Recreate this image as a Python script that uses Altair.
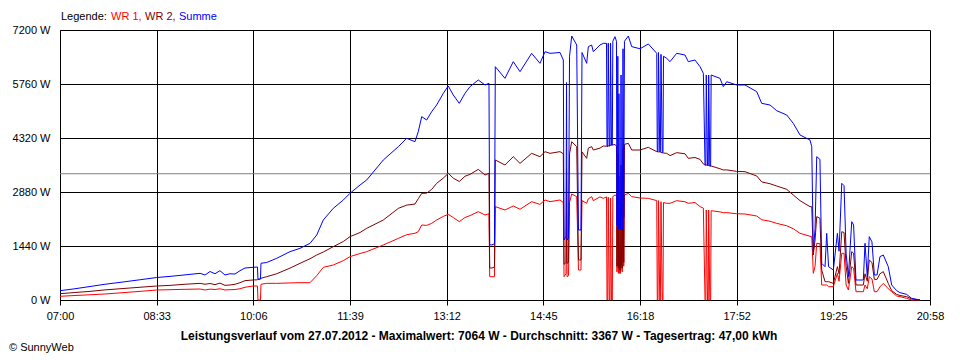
import json
import altair as alt
import pandas as pd

FONT = "Liberation Sans"

# time in minutes after 07:00
minutes = [
    0, 14.4, 28.9, 43.3, 57.8, 77.1, 93.1, 106.0, 120.4, 134.9,
    139.7, 144.5, 149.3, 154.1, 158.9, 163.7, 168.6, 173.4, 178.2, 185.9,
    190.2, 190.7, 193.1, 193.6, 199.1, 208.7, 221.5, 231.2, 240.8, 247.3,
    253.6, 263.2, 272.9, 279.3, 289.0, 295.4, 311.4, 325.9, 333.9, 341.9,
    345.1, 348.4, 353.2, 358.0, 362.8, 369.2, 374.0, 378.8, 384.6, 390.1,
    394.9, 402.9, 409.4, 413.2, 413.9, 416.1, 418.5, 419.3, 428.6, 436.6,
    443.1, 454.3, 462.3, 467.2, 472.0, 481.6, 484.8, 485.5, 487.4, 487.9,
    488.4, 489.8, 490.8, 492.9, 497.7, 499.4, 501.8, 502.8, 507.3, 508.9,
    512.1, 513.7, 520.1, 523.3, 526.4, 526.9, 527.6, 528.1, 529.1, 529.8,
    530.3, 531.2, 532.0, 532.5, 534.6, 536.0, 536.5, 537.3, 537.8, 538.4,
    538.9, 539.9, 540.4, 540.8, 541.6, 542.3, 543.0, 543.7, 547.4, 550.7,
    558.7, 566.7, 574.8, 575.3, 576.0, 576.5, 577.7, 578.3, 578.9, 580.1,
    580.8, 581.3, 584.4, 587.6, 594.0, 602.0, 605.2, 611.6, 616.5, 619.7,
    621.3, 622.1, 622.5, 623.7, 624.4, 624.8, 625.9, 626.7, 627.2, 635.7,
    638.9, 642.2, 651.8, 659.8, 671.1, 675.9, 683.9, 690.3, 700.0, 706.3,
    712.8, 722.4, 724.1, 725.6, 727.3, 728.9, 732.0, 733.7, 736.9, 738.5,
    740.3, 744.9, 748.8, 750.4, 753.0, 755.2, 757.2, 759.4, 762.6, 764.4,
    766.7, 773.8, 775.4, 777.6, 779.5, 782.1, 784.4, 787.0, 789.8, 793.0,
    797.8, 801.1, 805.9, 809.1, 815.5, 820.3, 828.4,
]

summe = [
    248, 300, 360, 420, 470, 540, 600, 630, 670, 711,
    667, 760, 700, 782, 667, 700, 693, 782, 853, 871,
    880, 552, 560, 980, 1000, 1111, 1289, 1378, 1511, 1733,
    2133, 2444, 2667, 2844, 3067, 3200, 3733, 4089, 4311, 4222,
    4489, 4889, 4800, 5022, 5200, 5511, 5707, 5467, 5244, 5511,
    5689, 5867, 5733, 5780, 1470, 1470, 1500, 6222, 5911, 6356,
    6089, 6578, 6311, 6622, 6578, 6600, 6400, 1600, 1700, 5800,
    1600, 1650, 6500, 7040, 6800, 1867, 1867, 6600, 6311, 6756,
    6800, 6622, 6800, 6844, 6844, 4100, 4100, 6850, 4110, 4110,
    6850, 4133, 4133, 6900, 7022, 6900, 2000, 6500, 1867, 5500,
    1900, 1867, 6000, 2500, 1867, 6700, 2200, 6900, 7040, 6756,
    6700, 6827, 6578, 3956, 3956, 6600, 3950, 3950, 6550, 3930,
    3930, 6500, 6444, 6356, 6578, 6533, 6356, 6400, 6222, 6044,
    3600, 3600, 6000, 3590, 3590, 6000, 3573, 3573, 6000, 5911,
    5689, 5822, 5733, 5733, 5556, 5244, 5200, 5049, 4933, 4711,
    4400, 4267, 4089, 1300, 1900, 3822, 3750, 978, 889, 1778,
    889, 800, 1778, 1300, 3111, 3050, 1244, 622, 2089, 2000,
    533, 533, 1511, 622, 1689, 1550, 667, 667, 1156, 1200,
    889, 400, 250, 196, 150, 44, 0,
]

wr2 = [
    168, 200, 230, 270, 300, 340, 373, 390, 420, 444,
    420, 440, 410, 450, 391, 400, 420, 462, 516, 533,
    540, 552, 560, 580, 622, 700, 850, 978, 1100, 1200,
    1280, 1422, 1560, 1689, 1800, 1911, 2133, 2444, 2530, 2560,
    2700, 2844, 2850, 2950, 3111, 3250, 3378, 3250, 3160, 3300,
    3350, 3484, 3333, 3380, 853, 853, 880, 3733, 3600, 3822,
    3644, 3911, 3822, 3956, 3911, 3956, 3900, 950, 1000, 3500,
    978, 1000, 3900, 4222, 4089, 1067, 1067, 3950, 3778, 4050,
    4089, 4000, 4050, 4107, 4100, 4100, 4100, 4110, 4110, 4110,
    4133, 4133, 4133, 4133, 4150, 4100, 900, 3900, 850, 3300,
    800, 780, 3600, 1000, 850, 4050, 1000, 4150, 4178, 4000,
    4000, 4071, 3956, 3956, 3956, 3950, 3950, 3950, 3930, 3930,
    3930, 3920, 3911, 3850, 3929, 3900, 3778, 3800, 3750, 3627,
    3600, 3600, 3600, 3590, 3590, 3590, 3573, 3573, 3573, 3500,
    3467, 3470, 3430, 3422, 3307, 3150, 3100, 3040, 2951, 2800,
    2649, 2489, 2489, 1200, 1600, 2222, 2180, 800, 489, 489,
    489, 444, 889, 700, 1822, 1800, 900, 444, 1289, 1250,
    400, 400, 700, 500, 1067, 1000, 550, 550, 700, 756,
    444, 250, 150, 120, 89, 30, 0,
]

wr1 = [
    99, 120, 140, 160, 190, 230, 267, 275, 285, 293,
    267, 290, 280, 300, 267, 275, 280, 300, 340, 373,
    373, 0, 0, 420, 444, 444, 455, 462, 462, 650,
    871, 933, 1050, 1156, 1240, 1289, 1467, 1644, 1740, 1780,
    1822, 2000, 1990, 2044, 2133, 2230, 2284, 2200, 2089, 2200,
    2250, 2356, 2267, 2300, 622, 622, 622, 2489, 2400, 2507,
    2420, 2622, 2550, 2667, 2622, 2667, 2600, 622, 700, 2300,
    622, 650, 2600, 2827, 2756, 800, 800, 2650, 2578, 2700,
    2756, 2650, 2750, 2711, 2750, 0, 0, 2740, 0, 0,
    2720, 0, 0, 2760, 2800, 2780, 750, 2600, 711, 2200,
    711, 711, 2400, 900, 750, 2700, 900, 2800, 2844, 2756,
    2720, 2711, 2650, 0, 0, 2650, 0, 0, 2620, 0,
    0, 2600, 2578, 2578, 2649, 2620, 2578, 2600, 2489, 2450,
    0, 0, 2400, 0, 0, 2400, 0, 0, 2382, 2350,
    2329, 2330, 2300, 2293, 2240, 2140, 2100, 2044, 1980, 1900,
    1778, 1700, 1689, 711, 900, 1511, 1500, 400, 400, 400,
    356, 356, 711, 500, 1244, 1244, 400, 267, 889, 850,
    222, 222, 400, 300, 622, 560, 222, 222, 350, 444,
    300, 222, 107, 90, 44, 0, 0,
]

x_tick_labels = ["07:00", "08:33", "10:06", "11:39", "13:12",
                 "14:45", "16:18", "17:52", "19:25", "20:58"]
x_span = 838  # minutes from 07:00 to 20:58
y_ticks = [0, 1440, 2880, 4320, 5760, 7200]
average = 3367

series_names = ["WR 1", "WR 2", "Summe"]
series_colors = ["#ff0000", "#800000", "#0000ff"]
title_text = ("Leistungsverlauf vom 27.07.2012 - Maximalwert: 7064 W - "
              "Durchschnitt: 3367 W - Tagesertrag: 47,00 kWh")

df = pd.DataFrame({"m": minutes, "WR 1": wr1, "WR 2": wr2, "Summe": summe})

n = len(x_tick_labels) - 1
x_values = [k * x_span / n for k in range(n + 1)]
label_expr = f"{json.dumps(x_tick_labels)}[round(datum.value*{n}/{x_span})]"

x_enc = alt.X(
    "m:Q",
    scale=alt.Scale(domain=[0, x_span], nice=False, zero=False),
    axis=alt.Axis(values=x_values, labelExpr=label_expr, title=None,
                  grid=True, gridColor="black", gridOpacity=1, gridWidth=1,
                  domainColor="black", tickColor="black", tickSize=5,
                  labelFont=FONT, labelFontSize=11, labelColor="black",
                  labelPadding=5, labelFlush=False, labelOverlap=False),
)


def y_enc(field):
    return alt.Y(
        f"{field}:Q",
        scale=alt.Scale(domain=[0, 7200], nice=False),
        axis=alt.Axis(values=y_ticks, labelExpr="datum.value + ' W'", title=None,
                      grid=True, gridColor="black", gridOpacity=1, gridWidth=1,
                      domainColor="black", ticks=False, labelPadding=10,
                      labelFont=FONT, labelFontSize=11, labelColor="black",
                      labelOverlap=False),
    )


base = alt.Chart(df)
lines = [
    base.mark_line(color=c, strokeWidth=1, interpolate="linear").encode(x=x_enc, y=y_enc(name))
    for name, c in zip(series_names, series_colors)
]

avg_rule = alt.Chart(pd.DataFrame({"avg": [average]})).mark_rule(
    color="#808080", strokeWidth=1
).encode(y=y_enc("avg"))


def text(t, x, y, color="black", size=11, weight="normal", align="left", baseline="middle"):
    return alt.Chart(pd.DataFrame({"t": [t]})).mark_text(
        align=align, baseline=baseline, color=color, fontSize=size,
        fontWeight=weight, font=FONT
    ).encode(x=alt.value(x), y=alt.value(y), text="t:N")


legend = [
    text("Legende:", 1, -13),
    text("WR 1,", 51, -13, color=series_colors[0]),
    text("WR 2,", 85, -13, color=series_colors[1]),
    text("Summe", 119, -13, color=series_colors[2]),
]
footer = [
    text(title_text, 419, 310, size=12, weight="bold", align="center", baseline="alphabetic"),
    text("© SunnyWeb", -51, 318),
]

chart = alt.layer(avg_rule, *lines, *legend, *footer).properties(
    width=870, height=270,
    autosize=alt.AutoSizeParams(type="none"),
    padding={"left": 52, "top": 22, "right": 20, "bottom": 58},
    background="white",
).configure_view(stroke=None)

chart.save("out.html", embed_options={"renderer": "svg", "actions": False})
